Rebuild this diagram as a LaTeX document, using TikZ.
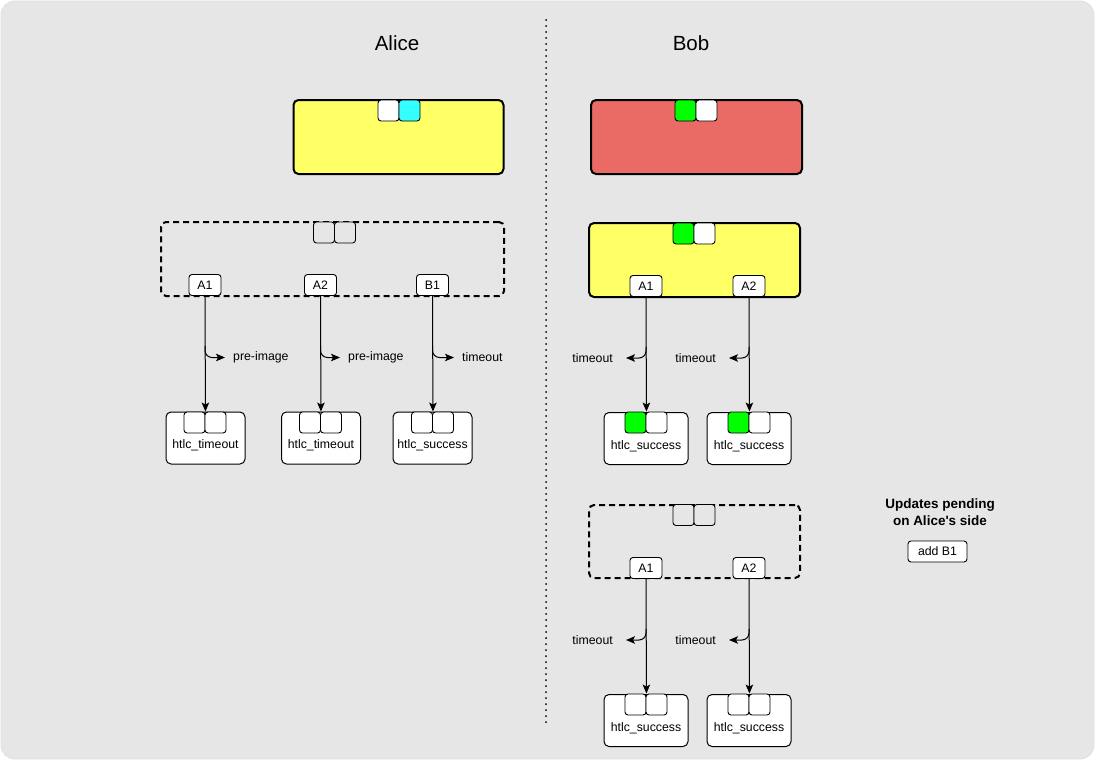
\documentclass[tikz,border=0pt]{standalone}
\usepackage{fontspec}
\setmainfont{Liberation Sans}[Ligatures=TeXOff]
\usetikzlibrary{arrows.meta}
\definecolor{bgc}{HTML}{E6E6E6}
\definecolor{ylw}{HTML}{FFFF66}
\definecolor{redb}{HTML}{EA6B66}
\definecolor{grn}{HTML}{00FF00}
\definecolor{cyn}{HTML}{33FFFF}
\tikzset{
 bigbox/.style={draw, line width=2pt, rounded corners=5pt, minimum width=210pt, minimum height=74pt, inner sep=0},
 dashbox/.style={bigbox, dash pattern=on 6pt off 4pt},
 sq/.style={draw, line width=0.9pt, rounded corners=3pt, minimum width=21pt, minimum height=21pt, inner sep=0},
 tag/.style={draw, fill=white, line width=0.9pt, rounded corners=3pt, minimum width=32pt, minimum height=21pt, inner sep=0, font=\fontsize{12.3}{14}\selectfont},
 htlc/.style={draw, fill=white, line width=1pt, rounded corners=5pt, minimum width=79pt, minimum height=52pt, inner sep=0},
 lbl/.style={inner sep=0, font=\fontsize{12.3}{14}\selectfont},
 boldlbl/.style={inner sep=0, font=\fontsize{13.5}{16}\selectfont\bfseries},
 title/.style={inner sep=0, font=\fontsize{20.5}{24}\selectfont},
 arr/.style={draw, line width=1pt, -{Stealth[length=9pt,width=7.5pt,inset=2pt]}},
}
\begin{document}
\begin{tikzpicture}[x=1pt,y=-1pt]
\useasboundingbox (0,0) rectangle (1095,760);
\fill[bgc, draw=black!12, line width=0.8pt, rounded corners=14pt] (1,1) rectangle (1094,759);
% titles and divider
\node[title] (alice) at (397,43) {Alice};
\node[title] (bob) at (691,43) {Bob};
\coordinate (d1) at (546,20);
\coordinate (d2) at (546,727);
\draw[line width=2pt, line cap=round, dash pattern=on 0pt off 6pt] (d1) -- (d2);

% ---------- Alice ----------
\node[bigbox, fill=ylw, minimum width=210pt] (atop) at (398.5,137) {};
\node[sq, fill=white] (atopl) at (388.5,110.5) {};
\node[sq, fill=cyn] (atopr) at (409.5,110.5) {};

\node[dashbox, minimum width=343pt] (adash) at (332.5,259) {};
\node[sq, fill=bgc] (adashl) at (324,232.5) {};
\node[sq, fill=bgc] (adashr) at (345,232.5) {};
\node[tag] (aA1) at (205,285) {A1};
\node[tag] (aA2) at (320.5,285) {A2};
\node[tag] (aB1) at (432.5,285) {B1};

\node[htlc] (ah1) at (205.5,438) {};
\node[sq, fill=white] (ah1l) at (194.5,422.5) {};
\node[sq, fill=white] (ah1r) at (215.5,422.5) {};
\node[lbl] (ah1t) at (205.5,445) {htlc\_timeout};
\node[htlc] (ah2) at (321,438) {};
\node[sq, fill=white] (ah2l) at (310,422.5) {};
\node[sq, fill=white] (ah2r) at (331,422.5) {};
\node[lbl] (ah2t) at (321,445) {htlc\_timeout};
\node[htlc] (ah3) at (432.5,438) {};
\node[sq, fill=white] (ah3l) at (422,422.5) {};
\node[sq, fill=white] (ah3r) at (443,422.5) {};
\node[lbl] (ah3t) at (432.5,445) {htlc\_success};

\draw[arr] (aA1.south) -- (ah1l.north east);
\draw[arr] (aA2.south) -- (ah2l.north east);
\draw[arr] (aB1.south) -- (ah3l.north east);

\node[lbl, anchor=west] (apa1) at (233,357.5) {pre-image};
\node[lbl, anchor=west] (apa2) at (348,357.5) {pre-image};
\node[lbl, anchor=west] (apa3) at (462,357.5) {timeout};
\draw[arr, rounded corners=7pt] (aA1.south) ++(0,50) |- ([xshift=-8pt]apa1.west);
\draw[arr, rounded corners=7pt] (aA2.south) ++(0,50) |- ([xshift=-8pt]apa2.west);
\draw[arr, rounded corners=7pt] (aB1.south) ++(0,50) |- ([xshift=-8pt]apa3.west);

% ---------- Bob ----------
\node[bigbox, fill=redb, minimum width=211pt] (btop) at (696.5,137) {};
\node[sq, fill=grn] (btopl) at (685.5,110.5) {};
\node[sq, fill=white] (btopr) at (706.5,110.5) {};

\node[bigbox, fill=ylw, minimum width=211pt] (bmid) at (694.5,260) {};
\node[sq, fill=grn] (bmidl) at (683.5,233.5) {};
\node[sq, fill=white] (bmidr) at (704.5,233.5) {};
\node[tag] (bA1) at (646,286) {A1};
\node[tag] (bA2) at (749,286) {A2};

\node[htlc, minimum width=84pt] (bh1) at (646,438.5) {};
\node[sq, fill=grn] (bh1l) at (635.5,422.5) {};
\node[sq, fill=white] (bh1r) at (656.5,422.5) {};
\node[lbl] (bh1t) at (646,446) {htlc\_success};
\node[htlc, minimum width=84pt] (bh2) at (749,438.5) {};
\node[sq, fill=grn] (bh2l) at (738.5,422.5) {};
\node[sq, fill=white] (bh2r) at (759.5,422.5) {};
\node[lbl] (bh2t) at (749,446) {htlc\_success};

\draw[arr] (bA1.south) -- (bh1l.north east);
\draw[arr] (bA2.south) -- (bh2l.north east);
\node[lbl, anchor=east] (bto1) at (613,358) {timeout};
\node[lbl, anchor=east] (bto2) at (716,358) {timeout};
\draw[arr, rounded corners=7pt] (bA1.south) ++(0,50) |- ([xshift=13pt]bto1.east);
\draw[arr, rounded corners=7pt] (bA2.south) ++(0,50) |- ([xshift=13pt]bto2.east);

\node[dashbox, minimum width=211pt, minimum height=73pt] (bdash) at (694.5,541.5) {};
\node[sq, fill=bgc] (bdashl) at (683.5,515) {};
\node[sq, fill=bgc] (bdashr) at (704.5,515) {};
\node[tag] (cA1) at (646,568) {A1};
\node[tag] (cA2) at (749,568) {A2};

\node[htlc, minimum width=84pt] (ch1) at (646,720.5) {};
\node[sq, fill=white] (ch1l) at (635.5,704.5) {};
\node[sq, fill=white] (ch1r) at (656.5,704.5) {};
\node[lbl] (ch1t) at (646,728) {htlc\_success};
\node[htlc, minimum width=84pt] (ch2) at (749,720.5) {};
\node[sq, fill=white] (ch2l) at (738.5,704.5) {};
\node[sq, fill=white] (ch2r) at (759.5,704.5) {};
\node[lbl] (ch2t) at (749,728) {htlc\_success};

\draw[arr] (cA1.south) -- (ch1l.north east);
\draw[arr] (cA2.south) -- (ch2l.north east);
\node[lbl, anchor=east] (cto1) at (613,640) {timeout};
\node[lbl, anchor=east] (cto2) at (716,640) {timeout};
\draw[arr, rounded corners=7pt] (cA1.south) ++(0,50) |- ([xshift=13pt]cto1.east);
\draw[arr, rounded corners=7pt] (cA2.south) ++(0,50) |- ([xshift=13pt]cto2.east);

% pending updates
\node[boldlbl] (up1) at (940,505) {Updates pending};
\node[boldlbl] (up2) at (940,521) {on Alice's side};
\node[tag, minimum width=59pt] (addb1) at (937.5,551.5) {add B1};
\end{tikzpicture}
\end{document}
